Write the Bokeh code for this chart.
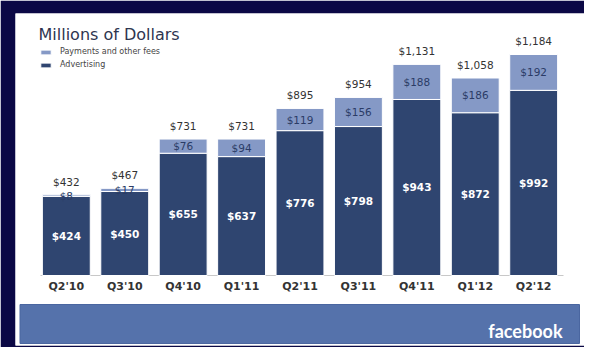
from bokeh.plotting import figure
from bokeh.models import FactorRange, Range1d, ColumnDataSource, Legend, LegendItem
from bokeh.core.properties import value
from bokeh.embed import file_html
from bokeh.resources import INLINE

# ---- data ----
quarters = ["Q2'10", "Q3'10", "Q4'10", "Q1'11", "Q2'11", "Q3'11", "Q4'11", "Q1'12", "Q2'12"]
advertising = [424, 450, 655, 637, 776, 798, 943, 872, 992]
payments = [8, 17, 76, 94, 119, 156, 188, 186, 192]
totals = [432, 467, 731, 731, 895, 954, 1131, 1058, 1184]

NAVY = "#0b0845"
DARK = "#2f4570"
LIGHT = "#8599c6"
FONT = "DejaVu Sans"

W, H = 584, 347
BL, BR, BT, BB = 15, 0, 13, 2          # borders around the white panel (frame)
PAD = 0.37                             # factor range padding (each side)
Y0, Y1 = -375.0, 1403.6
n = len(quarters)
FW, FH = W - BL - BR, H - BT - BB
S = FW / (n + 2 * PAD)


def xd(px):
    """pixel x in the picture -> synthetic x of the factor range"""
    return (px - BL) / S - PAD


def yd(py):
    """pixel y in the picture -> data y"""
    return Y1 - (py - BT) * (Y1 - Y0) / FH


src = ColumnDataSource(dict(
    q=quarters,
    adv=advertising,
    pay=payments,
    tot=totals,
    adv_mid=[a / 2 for a in advertising],
    pay_mid=[a + b / 2 for a, b in zip(advertising, payments)],
    adv_lbl=["$%d" % a for a in advertising],
    pay_lbl=["$%d" % b for b in payments],
    tot_lbl=["${:,}".format(t) for t in totals],
    zero=[0] * n,
))

p = figure(
    width=W, height=H,
    x_range=FactorRange(factors=quarters, range_padding=PAD, range_padding_units="absolute"),
    y_range=Range1d(Y0, Y1),
    x_axis_location=None, y_axis_location=None,
    toolbar_location=None, output_backend="svg",
    min_border_left=BL, min_border_right=BR, min_border_top=BT, min_border_bottom=BB,
    border_fill_color=NAVY, background_fill_color="white", outline_line_color=None,
)
p.grid.visible = False

# footer band
p.quad(left=[xd(19.5)], right=[xd(579)], bottom=[yd(343)], top=[yd(304)],
       fill_color="#5572ab", line_color="#4a66a0", line_width=1)
p.text(x=[xd(562)], y=[yd(330)], text=["facebook"], text_color="white",
       text_font=value("Lato"), text_font_style="bold", text_font_size="18px",
       text_align="right", text_baseline="alphabetic")

# baseline
p.segment(x0=[xd(40)], x1=[xd(563)], y0=[0], y1=[0], line_color="#c8c8c8", line_width=1)

# stacked bars
rs = p.vbar_stack(["adv", "pay"], x="q", width=0.82, color=[DARK, LIGHT],
                  line_color="white", line_width=1, source=src)

# labels
p.text(x="q", y="adv_mid", text="adv_lbl", source=src, text_color="white",
       text_font=value(FONT), text_font_style="bold", text_font_size="10.5px",
       text_align="center", text_baseline="middle")
p.text(x="q", y="pay_mid", text="pay_lbl", source=src, text_color="#2b3c66",
       text_font=value(FONT), text_font_size="10.5px",
       text_align="center", text_baseline="middle")
p.text(x="q", y="tot", text="tot_lbl", source=src, text_color="#333333",
       text_font=value(FONT), text_font_size="10.5px", y_offset=-13,
       text_align="center", text_baseline="middle")
p.text(x="q", y="zero", text="q", source=src, text_color="#333333",
       text_font=value(FONT), text_font_style="bold", text_font_size="11px", y_offset=11,
       text_align="center", text_baseline="middle")

# title
p.text(x=[xd(38)], y=[yd(34.3)], text=["Millions of Dollars"], text_color="#2e3550",
       text_font=value(FONT), text_font_size="16px",
       text_align="left", text_baseline="alphabetic")

legend = Legend(
    items=[LegendItem(label="Payments and other fees", renderers=[rs[1]]),
           LegendItem(label="Advertising", renderers=[rs[0]])],
    location=(24, 276), orientation="vertical",
    padding=0, margin=0, spacing=4,
    glyph_width=13, glyph_height=6, label_height=6, label_standoff=8,
    label_text_font=FONT, label_text_font_size="8px", label_text_color="#444444",
    border_line_color=None, background_fill_alpha=0,
)
p.add_layout(legend, "center")

open("out.html", "w").write(file_html(p, INLINE))
